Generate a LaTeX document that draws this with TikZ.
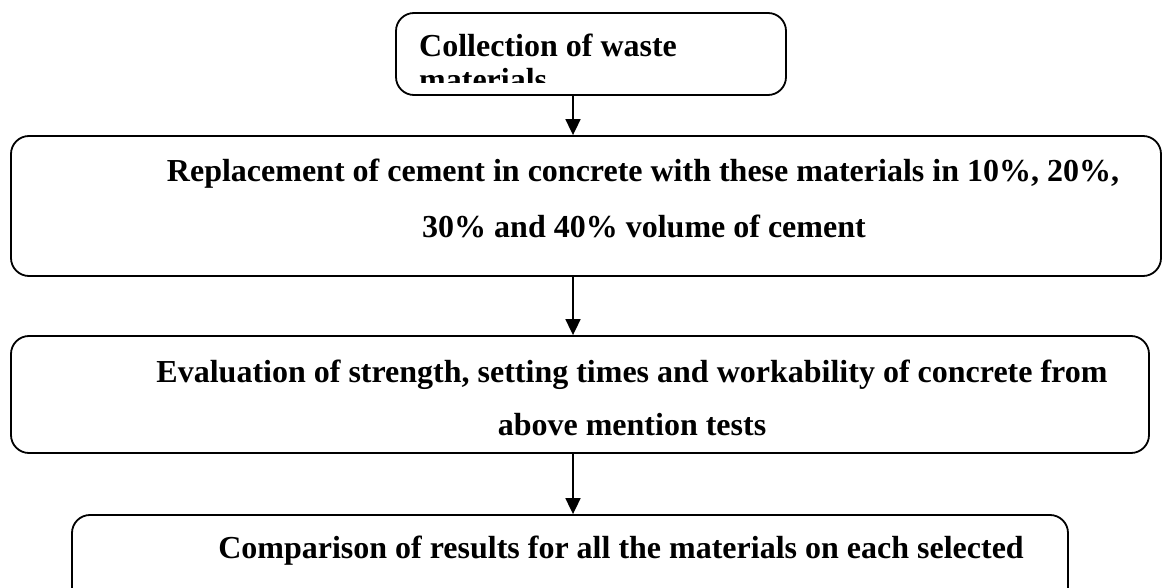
\documentclass[tikz,border=0pt]{standalone}
\usepackage{fontspec}
\setmainfont{Liberation Serif}
\usetikzlibrary{arrows.meta}

\begin{document}
\begin{tikzpicture}[x=1pt,y=-1pt,
    stage/.style={draw,line width=1.8pt,rounded corners=18pt,inner sep=0pt},
    txt/.style={anchor=base,inner sep=0pt,font=\bfseries\fontsize{32}{35}\selectfont},
    arr/.style={line width=1.8pt,-{Triangle[length=16pt,width=15pt]}}]
  \useasboundingbox (0,0) rectangle (1162,588);
  \clip (0,0) rectangle (1162,588);
  \draw
    (591,54) node[stage,minimum width=390pt,minimum height=82pt] (collect){}
    (586,206) node[stage,minimum width=1150pt,minimum height=140pt] (replace){}
    (580,394.5) node[stage,minimum width=1138pt,minimum height=117pt] (evaluate){}
    (570,565) node[stage,minimum width=996pt,minimum height=100pt] (compare){};
  \coordinate (spine) at (573,0);
  % texts
  \node[txt,anchor=base west] (collect1) at (419,57) {Collection of waste};
  \begin{scope}
    \clip (396,13) rectangle (786,83);
    \node[txt,anchor=base west] (collect2) at (419,91) {materials};
  \end{scope}
  \node[txt] (replace1) at (643,182) {Replacement of cement in concrete with these materials in 10\%, 20\%,};
  \node[txt] (replace2) at (644,238) {30\% and 40\% volume of cement};
  \node[txt] (evaluate1) at (632,382) {Evaluation of strength, setting times and workability of concrete from};
  \node[txt] (evaluate2) at (632,435) {above mention tests};
  \node[txt] (compare1) at (621,558) {Comparison of results for all the materials on each selected};
  \begin{scope}[arr]
    \draw (collect.south -| spine) to (replace.north -| spine);
    \draw (replace.south -| spine) to (evaluate.north -| spine);
    \draw (evaluate.south -| spine) to (compare.north -| spine);
  \end{scope}
\end{tikzpicture}
\end{document}
